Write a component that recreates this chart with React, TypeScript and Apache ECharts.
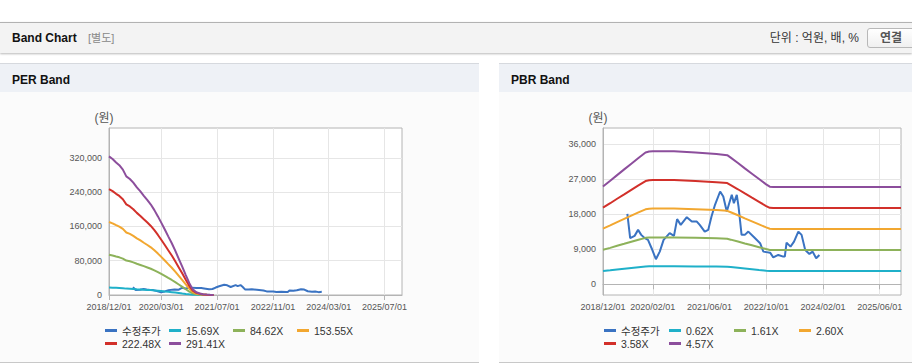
import React, { useEffect, useRef } from 'react';
import * as echarts from 'echarts';

const FONT = '"Liberation Sans", Arial, "Noto Sans CJK KR", sans-serif';

// ---------- shared: adjusted stock price (수정주가) ----------
const priceDates = ['2019-06-28','2019-07-22','2019-08-29','2019-09-28','2019-10-25','2019-11-25','2019-12-22','2020-01-22','2020-02-28','2020-04-01','2020-05-04','2020-06-25','2020-08-01','2020-08-28','2020-09-28','2020-11-19','2021-01-01','2021-02-13','2021-03-10','2021-04-22','2021-05-22','2021-06-19','2021-07-19','2021-09-01','2021-09-28','2021-10-28','2021-12-10','2021-12-28','2022-01-22','2022-02-06','2022-03-04','2022-04-01','2022-05-01','2022-06-13','2022-08-10','2022-09-07','2022-11-04','2022-12-01','2023-01-13','2023-02-25','2023-03-10','2023-03-25','2023-04-28','2023-05-28','2023-07-04','2023-08-01','2023-09-01','2023-10-07','2023-11-04','2023-12-04','2024-01-01'];
const priceValues = [18070,11820,12420,13960,12680,11820,11390,9250,6430,8380,11390,13110,12420,16710,15250,17220,16100,16100,15250,13520,13960,17380,20390,23810,22520,18670,22960,20820,22960,19950,12680,12680,13520,12240,10540,8380,8120,6900,7530,7100,7100,10700,9670,10950,13520,12680,8820,7790,8380,6680,7530];

// ---------- PER band ----------
const perLegend = ['수정주가', '15.69X', '84.62X', '153.55X', '222.48X', '291.41X'];
const perXTicks = ['2018-12-01','2020-03-01','2021-07-01','2022-11-01','2024-03-01','2025-07-01'];
const perYTicks = [0, 80000, 160000, 240000, 320000];
const perBandDates = ['2018-12-01','2019-01-01','2019-02-01','2019-03-01','2019-04-01','2019-05-01','2019-06-01','2019-07-01','2019-08-01','2019-09-01','2019-10-01','2019-11-01','2019-12-01','2020-01-01','2020-02-01','2020-03-01','2020-04-01','2020-05-01','2020-06-01','2020-07-01','2020-08-01','2020-09-01','2020-10-01','2020-11-01','2020-12-01','2021-01-01','2021-02-01','2021-03-01','2021-04-01','2021-05-01','2021-06-01'];
const per1569 = [17400,17100,16700,16300,15800,14900,14600,14100,13500,13000,12500,11900,11400,10700,9900,9100,8200,7400,6500,5600,4600,3500,2500,1500,700,350,190,90,50,20,0];
const per8462 = [94000,92200,89900,88000,85000,80500,78700,76200,72900,70200,67300,64300,61300,57500,53300,49100,44400,39800,35100,30000,24500,19000,13500,8000,3800,1900,1000,500,300,100,0];
const per15355 = [170600,167400,163100,159700,154300,146000,142800,138200,132400,127400,122100,116700,111300,104400,96700,89100,80600,72200,63700,54500,44500,34500,24600,14600,6900,3400,1800,900,500,200,0];
const per22248 = [247200,242500,236300,231400,223600,211600,206900,200200,191800,184700,176900,169100,161300,151300,140200,129000,116800,104600,92300,79000,64500,50100,35600,21100,10000,4900,2700,1300,700,200,0];
const per29141 = [323800,317600,309500,303100,292900,277100,271000,262300,251200,241900,231700,221500,211300,198200,183600,169000,153000,137000,120900,103500,84500,65600,46600,27700,13100,6400,3500,1800,900,300,0];

// ---------- PBR band ----------
const pbrLegend = ['수정주가', '0.62X', '1.61X', '2.60X', '3.58X', '4.57X'];
const pbrXTicks = ['2018-12-01','2020-02-01','2021-06-01','2022-10-01','2024-02-01','2025-06-01'];
const pbrYTicks = [0, 9000, 18000, 27000, 36000];
const pbrBandDates = ['2018-12-01','2019-02-01','2019-04-01','2019-06-01','2019-08-01','2019-10-01','2019-12-01','2020-01-01','2020-02-01','2020-08-01','2021-02-01','2021-08-01','2021-11-01','2021-12-01','2022-02-01','2022-04-01','2022-06-01','2022-08-01','2022-10-01','2022-11-01','2022-12-01','2025-12-01'];
const pbr062 = [3400,3600,3800,4000,4200,4400,4590,4630,4630,4630,4590,4540,4500,4410,4220,4040,3850,3660,3480,3400,3390,3390];
const pbr161 = [8840,9350,9870,10380,10900,11420,11910,12010,12030,12030,11910,11790,11670,11450,10960,10480,10000,9520,9030,8820,8790,8790];
const pbr260 = [14270,15110,15940,16770,17600,18430,19240,19400,19420,19420,19240,19030,18850,18490,17710,16930,16150,15370,14590,14250,14200,14200];
const pbr358 = [19650,20800,21950,23090,24240,25380,26490,26710,26740,26740,26490,26210,25960,25450,24380,23310,22230,21160,20080,19620,19550,19550];
const pbr457 = [25090,26550,28010,29480,30940,32400,33820,34090,34140,34140,33820,33450,33130,32490,31120,29750,28380,27010,25640,25040,24950,24950];

const seriesColors = ['#3a73c2', '#1fb0c9', '#8db25a', '#f2a730', '#d2302a', '#8c4e9c'];

const toTime = (s: string) => {
  const [y, m, d] = s.split('-').map(Number);
  return new Date(y, m - 1, d).getTime();
};
const pairs = (dates: string[], vals: number[]) => dates.map((t, i) => [toTime(t), vals[i]]);

function buildOption(cfg: {
  legend: string[];
  xTicks: string[];
  yTicks: number[];
  yMin: number;
  yMax: number;
  gridLeft: number;
  gridWidth: number;
  legendTextWidth: number;
  bandDates: string[];
  bands: number[][];
}) {
  const gray = '#b4b4b4';
  const xTickVals = cfg.xTicks.map(toTime);
  const series: any[] = [
    { name: cfg.legend[0], data: pairs(priceDates, priceValues) },
    ...cfg.bands.map((b, i) => ({ name: cfg.legend[i + 1], data: pairs(cfg.bandDates, b) })),
  ].map((s, i) => ({
    ...s,
    type: 'line',
    symbol: 'none',
    showSymbol: false,
    color: seriesColors[i],
    lineStyle: { width: 2, color: seriesColors[i] },
    itemStyle: { color: seriesColors[i] },
  }));
  return {
    animation: false,
    textStyle: { fontFamily: FONT },
    grid: {
      left: cfg.gridLeft,
      top: 36,
      width: cfg.gridWidth,
      height: 167,
      show: true,
      borderColor: gray,
      borderWidth: 1,
      backgroundColor: '#ffffff',
      outerBoundsMode: 'none',
    },
    legend: {
      data: cfg.legend,
      left: 105,
      top: 232,
      width: 262,
      padding: 0,
      orient: 'horizontal',
      icon: 'rect',
      itemWidth: 12,
      itemHeight: 3,
      itemGap: 0,
      textStyle: {
        fontFamily: FONT,
        fontSize: 10.5,
        color: '#333',
        width: cfg.legendTextWidth,
        lineHeight: 13,
      },
    },
    xAxis: {
      type: 'time',
      min: toTime('2018-12-01'),
      max: toTime('2025-12-01'),
      axisLine: { show: true, lineStyle: { color: gray } },
      axisTick: { show: true, length: 5, customValues: xTickVals, lineStyle: { color: gray } },
      axisLabel: {
        customValues: xTickVals,
        formatter: '{yyyy}/{MM}/{dd}',
        fontSize: 9,
        color: '#555',
        margin: 7,
        fontFamily: FONT,
        hideOverlap: false,
      },
      splitLine: { show: true, lineStyle: { color: '#e6e6e6' } },
    },
    yAxis: {
      type: 'value',
      min: cfg.yMin,
      max: cfg.yMax,
      name: '(원)',
      nameLocation: 'end',
      nameGap: 4,
      nameMoveOverlap: false,
      nameTextStyle: { fontSize: 12, color: '#555', padding: [0, 10, 0, 0], fontFamily: FONT },
      axisLine: { show: true, lineStyle: { color: gray } },
      axisTick: { show: false, customValues: cfg.yTicks },
      axisLabel: { customValues: cfg.yTicks, fontSize: 9, color: '#555', margin: 7, fontFamily: FONT },
      splitLine: { show: true, lineStyle: { color: '#e6e6e6' } },
    },
    series,
  };
}

const perOption = buildOption({
  legend: perLegend,
  xTicks: perXTicks,
  yTicks: perYTicks,
  yMin: 0,
  yMax: 390000,
  gridLeft: 109,
  gridWidth: 293,
  legendTextWidth: 47,
  bandDates: perBandDates,
  bands: [per1569, per8462, per15355, per22248, per29141],
});

const pbrOption = buildOption({
  legend: pbrLegend,
  xTicks: pbrXTicks,
  yTicks: pbrYTicks,
  yMin: -2750,
  yMax: 40100,
  gridLeft: 104,
  gridWidth: 298,
  legendTextWidth: 48,
  bandDates: pbrBandDates,
  bands: [pbr062, pbr161, pbr260, pbr358, pbr457],
});

function EChart({ option, style }: { option: any; style: React.CSSProperties }) {
  const ref = useRef<HTMLDivElement>(null);
  useEffect(() => {
    if (!ref.current) return;
    const chart = echarts.init(ref.current, undefined, { renderer: 'svg' });
    chart.setOption(option);
    return () => chart.dispose();
  }, [option]);
  return <div ref={ref} style={style} />;
}

function Panel({ left, width, title, option }: { left: number; width: number; title: string; option: any }) {
  return (
    <>
      <div
        style={{
          position: 'absolute',
          left,
          top: 63,
          width,
          height: 28,
          background: '#eef1f6',
          borderTop: '1px solid #d6d9de',
        }}
      />
      <div
        style={{
          position: 'absolute',
          left: left + 12,
          top: 72,
          lineHeight: '16px',
          fontSize: 12,
          fontWeight: 'bold',
          color: '#111',
        }}
      >
        {title}
      </div>
      <div
        style={{
          position: 'absolute',
          left,
          top: 92,
          width,
          height: 270,
          background: '#fbfbfb',
          borderBottom: '1px solid #c8c8c8',
        }}
      />
      <EChart option={option} style={{ position: 'absolute', left, top: 92, width, height: 270 }} />
    </>
  );
}

export default function App() {
  return (
    <div
      style={{
        position: 'fixed',
        left: 0,
        top: 0,
        width: 912,
        height: 364,
        overflow: 'hidden',
        background: '#ffffff',
        fontFamily: FONT,
      }}
    >
      <div
        style={{
          position: 'absolute',
          left: 0,
          top: 22,
          width: 912,
          height: 30,
          background: '#f3f3f3',
          borderTop: '1px solid #b2b2b2',
          boxShadow: '0 1px 2px rgba(0,0,0,0.28)',
        }}
      >
        <span style={{ position: 'absolute', left: 12, top: 0, lineHeight: '30px', fontSize: 12, fontWeight: 'bold', color: '#111' }}>
          Band Chart
        </span>
        <span style={{ position: 'absolute', left: 88, top: 0, lineHeight: '30px', fontSize: 11, color: '#888' }}>[별도]</span>
        <span style={{ position: 'absolute', right: 53, top: 0, lineHeight: '30px', fontSize: 12, color: '#333' }}>
          단위 : 억원, 배, %
        </span>
        <div
          style={{
            position: 'absolute',
            left: 867,
            top: 5,
            width: 60,
            height: 18,
            border: '1px solid #b8b8b8',
            borderRadius: 3,
            background: 'linear-gradient(#ffffff, #f0f0f0)',
            boxSizing: 'content-box',
          }}
        >
          <span style={{ position: 'absolute', left: 12, top: 0, lineHeight: '18px', fontSize: 12, fontWeight: 'bold', color: '#555' }}>
            연결
          </span>
        </div>
      </div>
      <Panel left={0} width={479} title="PER Band" option={perOption} />
      <Panel left={499} width={413} title="PBR Band" option={pbrOption} />
    </div>
  );
}
